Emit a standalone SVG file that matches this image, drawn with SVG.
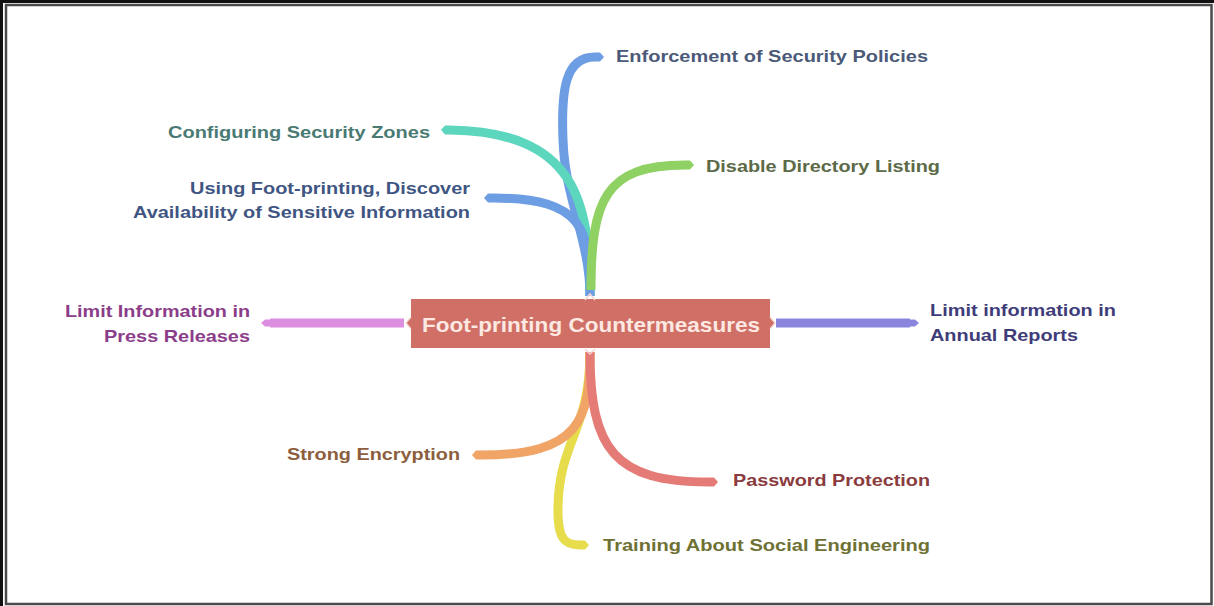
<svg xmlns="http://www.w3.org/2000/svg" width="1214" height="606" viewBox="0 0 1214 606">
<style>
.b{fill:none;stroke-width:9;stroke-linecap:butt}
.t{font-family:"Liberation Sans",Arial,sans-serif;font-weight:bold;font-size:17px}
</style>
<defs>
<marker id="mBlue" markerUnits="userSpaceOnUse" markerWidth="12" markerHeight="12" refX="0" refY="6" orient="auto" viewBox="0 0 12 12"><path d="M0,1.5 L5,1.5 L9,6 L5,10.5 L0,10.5 z" fill="#6d9de3"/></marker>
<marker id="mTeal" markerUnits="userSpaceOnUse" markerWidth="12" markerHeight="12" refX="0" refY="6" orient="auto" viewBox="0 0 12 12"><path d="M0,1.5 L5,1.5 L9,6 L5,10.5 L0,10.5 z" fill="#5cd6bd"/></marker>
<marker id="mGreen" markerUnits="userSpaceOnUse" markerWidth="12" markerHeight="12" refX="0" refY="6" orient="auto" viewBox="0 0 12 12"><path d="M0,1.5 L5,1.5 L9,6 L5,10.5 L0,10.5 z" fill="#8fd163"/></marker>
<marker id="mViolet" markerUnits="userSpaceOnUse" markerWidth="12" markerHeight="12" refX="0" refY="6" orient="auto" viewBox="0 0 12 12"><path d="M0,2.5 L5,2.5 L9,6 L5,9.5 L0,9.5 z" fill="#dc8ee0"/></marker>
<marker id="mPurple" markerUnits="userSpaceOnUse" markerWidth="12" markerHeight="12" refX="0" refY="6" orient="auto" viewBox="0 0 12 12"><path d="M0,2.5 L5,2.5 L9,6 L5,9.5 L0,9.5 z" fill="#8a86dd"/></marker>
<marker id="mOrange" markerUnits="userSpaceOnUse" markerWidth="12" markerHeight="12" refX="0" refY="6" orient="auto" viewBox="0 0 12 12"><path d="M0,1.5 L5,1.5 L9,6 L5,10.5 L0,10.5 z" fill="#f0a466"/></marker>
<marker id="mYellow" markerUnits="userSpaceOnUse" markerWidth="12" markerHeight="12" refX="0" refY="6" orient="auto" viewBox="0 0 12 12"><path d="M0,1.5 L5,1.5 L9,6 L5,10.5 L0,10.5 z" fill="#e6dc4c"/></marker>
<marker id="mRed" markerUnits="userSpaceOnUse" markerWidth="12" markerHeight="12" refX="0" refY="6" orient="auto" viewBox="0 0 12 12"><path d="M0,1.5 L5,1.5 L9,6 L5,10.5 L0,10.5 z" fill="#e47b76"/></marker>
</defs>
<rect x="0" y="0" width="1214" height="606" fill="#ffffff"/>
<g id="frame">
<path d="M1.5,606 V1.5 H1214" fill="none" stroke="#111" stroke-width="3"/>
<rect x="6" y="5" width="1205.5" height="599" fill="none" stroke="#4a4a4a" stroke-width="2.5"/>
</g>
<g id="connectors">
<path class="b" stroke="#6d9de3" d="M590,296 C590,240 565,200 563,140 C561,90 565,57 595,57" marker-end="url(#mBlue)"/>
<path class="b" stroke="#5cd6bd" d="M590,296 C590,200 575,132 450,130" marker-end="url(#mTeal)"/>
<path class="b" stroke="#6d9de3" d="M590,296 C590,230 585,198 493,198" marker-end="url(#mBlue)"/>
<path class="b" stroke="#8fd163" d="M591,290 C591,200 605,165 685,165" marker-end="url(#mGreen)"/>
<path class="b" stroke-width="7" fill="none" stroke="#dc8ee0" d="M404,323 H270" marker-end="url(#mViolet)"/>
<path class="b" stroke-width="7" fill="none" stroke="#8a86dd" d="M776,323 H910" marker-end="url(#mPurple)"/>
<path class="b" stroke="#e6dc4c" d="M590,352 C590,430 560,440 558,505 C557,540 565,545 580,545" marker-end="url(#mYellow)"/>
<path class="b" stroke="#f0a466" d="M590,352 C590,420 580,455 481,455" marker-end="url(#mOrange)"/>
<path class="b" stroke="#e47b76" d="M590,352 C590,450 615,482 709,482" marker-end="url(#mRed)"/>
</g>
<g id="center">
<rect x="411" y="299" width="359" height="49" fill="#cf6f66"/>
<path d="M585,300 L590,294 L595,300" fill="none" stroke="#f7d7d3" stroke-width="1.5"/>
<path d="M585,349 L590,354 L595,349" fill="none" stroke="#f7d7d3" stroke-width="1.5"/>
<path d="M411,317 L406,323 L411,329" fill="#cf6f66" stroke="#f7d7d3" stroke-width="1.2"/>
<path d="M770,317 L775,323 L770,329" fill="#cf6f66" stroke="#f7d7d3" stroke-width="1.2"/>
<text class="t" x="422" y="332" font-size="21" textLength="338" lengthAdjust="spacingAndGlyphs" fill="#fde8e2" style="font-size:21px">Foot-printing Countermeasures</text>
</g>
<g id="n-enforcement"><text class="t" x="616" y="62" textLength="312" lengthAdjust="spacingAndGlyphs" fill="#4b5a78">Enforcement of Security Policies</text></g>
<g id="n-disable"><text class="t" x="706" y="172" textLength="234" lengthAdjust="spacingAndGlyphs" fill="#5c6a48">Disable Directory Listing</text></g>
<g id="n-zones"><text class="t" x="168" y="138" textLength="262" lengthAdjust="spacingAndGlyphs" fill="#4a7a74">Configuring Security Zones</text></g>
<g id="n-using">
<text class="t" x="190" y="194" textLength="280" lengthAdjust="spacingAndGlyphs" fill="#3f5683">Using Foot-printing, Discover</text>
<text class="t" x="133" y="218" textLength="337" lengthAdjust="spacingAndGlyphs" fill="#3f5683">Availability of Sensitive Information</text>
</g>
<g id="n-press">
<text class="t" x="65" y="317" textLength="185" lengthAdjust="spacingAndGlyphs" fill="#8b3d8a">Limit Information in</text>
<text class="t" x="104" y="342" textLength="146" lengthAdjust="spacingAndGlyphs" fill="#8b3d8a">Press Releases</text>
</g>
<g id="n-annual">
<text class="t" x="930" y="316" textLength="186" lengthAdjust="spacingAndGlyphs" fill="#3f3c7a">Limit information in</text>
<text class="t" x="930" y="341" textLength="148" lengthAdjust="spacingAndGlyphs" fill="#3f3c7a">Annual Reports</text>
</g>
<g id="n-encryption"><text class="t" x="287" y="460" textLength="173" lengthAdjust="spacingAndGlyphs" fill="#8c5e3d">Strong Encryption</text></g>
<g id="n-password"><text class="t" x="733" y="486" textLength="197" lengthAdjust="spacingAndGlyphs" fill="#8a3b3e">Password Protection</text></g>
<g id="n-training"><text class="t" x="603" y="551" textLength="327" lengthAdjust="spacingAndGlyphs" fill="#6f7134">Training About Social Engineering</text></g>
</svg>
